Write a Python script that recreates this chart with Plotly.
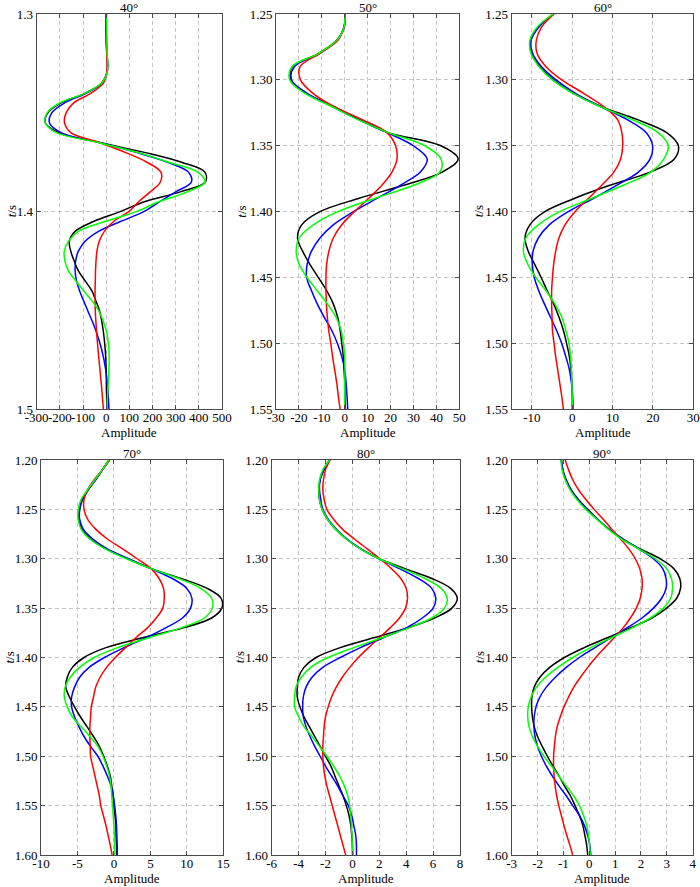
import plotly.graph_objects as go

# ---------------- data ----------------
ANGLES = ["40°", "50°", "60°", "70°", "80°", "90°"]

T40 = [1.300, 1.310, 1.320, 1.325, 1.330, 1.335, 1.340, 1.345, 1.350, 1.355,
       1.360, 1.365, 1.370, 1.375, 1.380, 1.385, 1.390, 1.395, 1.400, 1.405,
       1.410, 1.415, 1.420, 1.425, 1.430, 1.435, 1.440, 1.445, 1.450, 1.460,
       1.470, 1.480, 1.490, 1.500]
BLACK40 = [0, 0, 3, 6, 3, -20, -90, -195, -252, -263,
           -205, -30, 165, 325, 426, 428, 320, 165, 60, -55,
           -134, -159, -153, -138, -120, -91, -62, -45, -29, -13,
           -4, 0, 1, 3]
BLUE40 = [0, 0, 3, 6, 3, -18, -85, -180, -235, -245,
          -195, -30, 130, 265, 355, 368, 300, 230, 162, 61,
          -33, -91, -120, -132, -134, -128, -115, -98, -80, -45,
          -19, -2, 7, 12]
GREEN40 = [2, 3, 4, 7, 4, -20, -90, -200, -255, -263,
           -215, -35, 135, 270, 395, 427, 350, 227, 130, -5,
           -120, -163, -181, -178, -163, -131, -98, -62, -33, 0,
           12, 12, 7, 3]
RED40 = [0, 0, 2, 4, 2, -12, -65, -140, -173, -180,
         -153, -30, 82, 176, 236, 234, 190, 140, 97, 32,
         -8, -30, -40, -44, -46, -47, -48, -48, -47, -42,
         -35, -27, -19, -12]

T50 = [1.25, 1.26, 1.27, 1.28, 1.29, 1.30, 1.31, 1.32, 1.33, 1.34, 1.35,
       1.36, 1.37, 1.38, 1.39, 1.40, 1.41, 1.42, 1.43, 1.44, 1.45,
       1.46, 1.47, 1.48, 1.49, 1.50, 1.51, 1.52, 1.53, 1.54, 1.55]
BLACK50 = [0.0, -0.3, -3.5, -11.5, -22.8, -23.5, -17.0, -5.0, 6.0, 19.0, 42.0,
           49.5, 42.5, 25.7, 6.0, -10.8, -18.8, -20.6, -18.4, -15.2, -11.5,
           -7.9, -5.0, -3.1, -2.0, -1.3, -0.6, -0.3, 0.0, 0.1, 0.3]
BLUE50 = [0.0, -0.3, -3.4, -11.0, -22.0, -23.2, -16.5, -5.7, 6.0, 18.5, 30.0,
          36.0, 33.0, 24.2, 14.0, 3.8, -5.0, -10.8, -14.5, -16.4, -16.6,
          -14.5, -12.0, -9.0, -5.7, -3.2, -1.3, 0.0, 0.6, 1.0, 1.3]
GREEN50 = [0.0, -0.3, -3.5, -11.5, -23.0, -24.0, -17.5, -6.0, 5.5, 19.0, 35.0,
           42.0, 41.5, 30.0, 13.0, -3.0, -13.7, -19.9, -21.2, -19.9, -16.4,
           -12.0, -7.6, -3.8, -1.6, -0.6, 0.0, 0.1, 0.0, 0.0, 0.0]
RED50 = [0.0, -0.3, -3.0, -11.0, -19.5, -19.3, -14.0, -5.0, 7.4, 18.4, 22.2,
         22.8, 20.6, 16.2, 10.4, 4.2, -1.3, -5.0, -6.9, -7.9, -8.2,
         -8.2, -8.0, -7.6, -7.0, -6.1, -5.3, -4.4, -3.5, -2.8, -2.0]

T60 = T50
BLACK60 = [-4.7, -8.4, -10.3, -10.1, -8.0, -4.7, 0.2, 6.9, 16.0, 23.4, 26.3,
           25.3, 19.3, 9.3, 0.5, -6.8, -10.5, -11.7, -10.9, -9.3, -7.7,
           -6.2, -4.6, -3.3, -2.2, -1.4, -0.7, -0.3, -0.1, 0.0, 0.0]
BLUE60 = [-4.5, -8.3, -10.2, -9.8, -7.6, -4.0, 0.7, 6.9, 13.5, 18.3, 19.9,
          19.3, 16.4, 11.0, 5.2, -1.0, -5.7, -8.4, -9.7, -9.9, -9.4,
          -8.3, -6.9, -5.4, -3.9, -2.6, -1.6, -0.7, -0.2, 0.1, 0.2]
GREEN60 = [-4.7, -8.7, -10.5, -10.2, -8.2, -4.9, 0.1, 6.7, 14.7, 21.3, 23.8,
           22.7, 19.5, 12.6, 4.8, -3.1, -8.4, -11.5, -12.1, -11.0, -9.0,
           -6.5, -4.3, -2.6, -1.6, -0.8, -0.4, -0.2, -0.1, 0.0, 0.0]
RED60 = [-4.5, -7.6, -8.9, -8.7, -6.5, -2.6, 2.7, 7.7, 11.2, 12.3, 12.5,
         12.0, 10.3, 7.3, 4.0, 0.7, -1.8, -3.3, -4.1, -4.6, -4.9,
         -5.1, -5.1, -5.0, -4.9, -4.5, -4.1, -3.6, -3.1, -2.6, -2.2]

T70 = [1.20, 1.21, 1.22, 1.23, 1.24, 1.25, 1.26, 1.27, 1.28, 1.29, 1.30,
       1.31, 1.32, 1.33, 1.34, 1.35, 1.36, 1.37, 1.38, 1.39, 1.40,
       1.41, 1.42, 1.43, 1.44, 1.45, 1.46, 1.47, 1.48, 1.49, 1.50,
       1.51, 1.52, 1.53, 1.54, 1.55, 1.56, 1.57, 1.58, 1.59, 1.60]
BLACK70 = [-0.7, -1.6, -2.5, -3.5, -4.3, -4.7, -4.8, -4.4, -3.2, -1.1, 1.9,
           5.1, 9.2, 12.8, 14.7, 14.8, 13.4, 9.5, 3.9, -1.1, -4.1,
           -5.7, -6.4, -6.6, -6.1, -5.4, -4.6, -3.7, -2.8, -2.0, -1.4,
           -0.9, -0.5, -0.3, -0.1, 0.0, 0.15, 0.25, 0.3, 0.35, 0.4]
BLUE70 = [-0.6, -1.55, -2.5, -3.5, -4.4, -4.7, -4.7, -4.2, -2.9, -0.9, 2.0,
          5.1, 8.0, 10.0, 10.7, 10.5, 9.4, 7.1, 4.4, 1.4, -1.3,
          -3.4, -4.7, -5.4, -5.8, -5.8, -5.4, -4.8, -4.1, -3.2, -2.2,
          -1.5, -0.9, -0.4, -0.1, 0.1, 0.25, 0.35, 0.4, 0.45, 0.45]
GREEN70 = [-0.7, -1.6, -2.6, -3.6, -4.5, -4.9, -4.9, -4.5, -3.3, -1.2, 1.7,
           5.1, 8.9, 11.9, 13.4, 13.5, 12.4, 9.2, 4.8, 0.5, -2.7,
           -4.7, -6.0, -6.7, -6.8, -6.4, -5.7, -4.5, -3.3, -2.2, -1.5,
           -1.0, -0.6, -0.4, -0.3, -0.2, -0.1, 0.0, 0.05, 0.1, 0.1]
RED70 = [-0.6, -1.6, -2.7, -3.6, -4.1, -4.1, -3.6, -2.5, -0.9, 1.2, 3.2,
         5.1, 6.2, 6.8, 6.9, 6.7, 5.8, 4.6, 3.0, 1.6, 0.2,
         -1.0, -1.9, -2.5, -2.8, -3.1, -3.2, -3.3, -3.3, -3.25, -3.2,
         -2.9, -2.6, -2.3, -2.0, -1.8, -1.45, -1.1, -0.8, -0.5, -0.25]

T80 = T70
BLACK80 = [-1.7, -2.1, -2.4, -2.5, -2.45, -2.25, -1.85, -1.25, -0.45, 0.6, 2.0,
           3.9, 5.9, 7.3, 7.8, 7.4, 6.1, 4.1, 1.6, -0.9, -2.7,
           -3.6, -4.0, -4.1, -4.1, -3.9, -3.6, -3.2, -2.8, -2.4, -2.0,
           -1.6, -1.3, -1.0, -0.7, -0.45, -0.25, -0.12, -0.05, 0.0, 0.02]
BLUE80 = [-1.7, -2.15, -2.4, -2.45, -2.35, -2.2, -1.8, -1.2, -0.4, 0.65, 2.0,
          3.5, 4.9, 5.9, 6.2, 6.0, 5.2, 4.0, 2.3, 0.6, -0.9,
          -2.2, -3.0, -3.45, -3.65, -3.7, -3.65, -3.45, -3.15, -2.8, -2.4,
          -2.0, -1.55, -1.1, -0.7, -0.3, -0.05, 0.1, 0.25, 0.3, 0.3]
GREEN80 = [-1.7, -2.2, -2.45, -2.5, -2.45, -2.25, -1.85, -1.25, -0.45, 0.6, 2.0,
           3.7, 5.4, 6.6, 7.05, 6.85, 5.9, 4.2, 2.2, 0.1, -1.8,
           -3.1, -3.8, -4.2, -4.3, -4.3, -4.0, -3.6, -3.0, -2.45, -1.9,
           -1.4, -0.95, -0.6, -0.35, -0.2, -0.12, -0.07, -0.03, -0.01, 0.0]
RED80 = [-1.65, -2.0, -2.15, -2.2, -2.1, -1.9, -1.4, -0.75, 0.15, 1.1, 2.05,
         2.9, 3.6, 4.0, 4.1, 3.95, 3.5, 2.8, 2.0, 1.2, 0.45,
         -0.2, -0.75, -1.2, -1.55, -1.8, -2.0, -2.1, -2.15, -2.2, -2.2,
         -2.15, -2.05, -1.9, -1.7, -1.5, -1.3, -1.1, -0.9, -0.7, -0.5]

T90 = T70
BLACK90 = [-1.08, -1.02, -0.89, -0.7, -0.42, -0.06, 0.32, 0.76, 1.27, 1.97, 2.74,
           3.27, 3.5, 3.53, 3.38, 2.99, 2.42, 1.59, 0.7, -0.19, -0.96,
           -1.53, -1.91, -2.13, -2.22, -2.23, -2.2, -2.13, -2.0, -1.82, -1.62,
           -1.4, -1.17, -0.96, -0.73, -0.55, -0.38, -0.25, -0.17, -0.1, -0.06]
BLUE90 = [-1.08, -1.03, -0.91, -0.72, -0.45, -0.09, 0.32, 0.76, 1.31, 1.91, 2.48,
          2.84, 2.97, 2.97, 2.8, 2.48, 2.04, 1.46, 0.83, 0.22, -0.38,
          -0.89, -1.31, -1.66, -1.91, -2.06, -2.13, -2.14, -2.1, -2.0, -1.85,
          -1.66, -1.43, -1.17, -0.89, -0.64, -0.38, -0.19, -0.06, 0.02, 0.06]
GREEN90 = [-1.1, -1.05, -0.93, -0.75, -0.48, -0.13, 0.29, 0.73, 1.24, 1.91, 2.55,
           2.99, 3.18, 3.22, 3.15, 2.87, 2.36, 1.66, 0.85, 0.06, -0.64,
           -1.21, -1.69, -2.04, -2.25, -2.36, -2.38, -2.33, -2.2, -2.0, -1.75,
           -1.46, -1.18, -0.89, -0.61, -0.38, -0.22, -0.1, -0.03, 0.01, 0.04]
RED90 = [-0.93, -0.8, -0.64, -0.42, -0.13, 0.19, 0.54, 0.87, 1.21, 1.53, 1.78,
         1.95, 2.04, 2.04, 1.97, 1.82, 1.59, 1.31, 0.96, 0.6, 0.25,
         -0.06, -0.34, -0.6, -0.8, -0.98, -1.12, -1.24, -1.31, -1.35, -1.38,
         -1.38, -1.36, -1.32, -1.26, -1.18, -1.08, -0.98, -0.87, -0.75, -0.64]

# tick values / labels
XT40 = [-300, -200, -100, 0, 100, 200, 300, 400, 500]
XT50 = [-30, -20, -10, 0, 10, 20, 30, 40, 50]
XT60 = [-10, 0, 10, 20, 30]
XT70 = [-10, -5, 0, 5, 10, 15]
XT80 = [-6, -4, -2, 0, 2, 4, 6, 8]
XT90 = [-3, -2, -1, 0, 1, 2, 3, 4]
YT40 = [1.3, 1.4, 1.5]
YT50 = [1.25, 1.30, 1.35, 1.40, 1.45, 1.50, 1.55]
YT70 = [1.20, 1.25, 1.30, 1.35, 1.40, 1.45, 1.50, 1.55, 1.60]

# ---------------- figure ----------------
W, H = 700, 887
FONT = "Liberation Serif"
AX = "#4a4a4a"

panels = [
    dict(t=T40, k=BLACK40, b=BLUE40, g=GREEN40, r=RED40, xt=XT40, yt=YT40, yfmt="{:.1f}",
         xr=[-300, 500], yr=[1.5, 1.3], box=(36.7, 222.0, 14.0, 409.3), ylab=25),
    dict(t=T50, k=BLACK50, b=BLUE50, g=GREEN50, r=RED50, xt=XT50, yt=YT50, yfmt="{:.2f}",
         xr=[-30, 50], yr=[1.55, 1.25], box=(276.0, 459.3, 14.0, 409.3), ylab=34),
    dict(t=T60, k=BLACK60, b=BLUE60, g=GREEN60, r=RED60, xt=XT60, yt=YT50, yfmt="{:.2f}",
         xr=[-15, 30], yr=[1.55, 1.25], box=(511.7, 693.3, 14.0, 409.3), ylab=33),
    dict(t=T70, k=BLACK70, b=BLUE70, g=GREEN70, r=RED70, xt=XT70, yt=YT70, yfmt="{:.2f}",
         xr=[-10, 15], yr=[1.60, 1.20], box=(41.0, 223.3, 460.0, 855.0), ylab=32),
    dict(t=T80, k=BLACK80, b=BLUE80, g=GREEN80, r=RED80, xt=XT80, yt=YT70, yfmt="{:.2f}",
         xr=[-6, 8], yr=[1.60, 1.20], box=(271.7, 460.0, 460.0, 855.0), ylab=32),
    dict(t=T90, k=BLACK90, b=BLUE90, g=GREEN90, r=RED90, xt=XT90, yt=YT70, yfmt="{:.2f}",
         xr=[-3, 4], yr=[1.60, 1.20], box=(511.7, 692.7, 460.0, 855.0), ylab=32),
]

fig = go.Figure()
annotations = []
layout_axes = {}

for i, p in enumerate(panels):
    n = "" if i == 0 else str(i + 1)
    xref, yref = "x" + n, "y" + n
    for vals, col in ((p["k"], "#000000"), (p["b"], "#0000ff"),
                      (p["r"], "#ff0000"), (p["g"], "#00ff00")):
        fig.add_trace(go.Scatter(x=vals, y=p["t"], mode="lines", xaxis=xref, yaxis=yref,
                                 line=dict(color=col, width=1.5, shape="spline", smoothing=1.0),
                                 showlegend=False, hoverinfo="skip"))
    x0, x1, y0, y1 = p["box"]
    xd = [x0 / W, x1 / W]
    yd = [1 - y1 / H, 1 - y0 / H]
    common = dict(showline=True, linecolor=AX, linewidth=1, mirror="ticks",
                  ticks="inside", ticklen=4, tickcolor=AX, tickwidth=1,
                  showgrid=True, gridcolor="#c4c4c4", gridwidth=1, griddash="4px,3px",
                  zeroline=False, tickfont=dict(family=FONT, size=13, color="#000"),
                  fixedrange=True, automargin=False, tickangle=0)
    layout_axes["xaxis" + n] = dict(domain=xd, range=p["xr"], anchor=yref,
                                    tickvals=p["xt"], ticktext=[str(v) for v in p["xt"]],
                                    ticklabelstandoff=-4, **common)
    layout_axes["yaxis" + n] = dict(domain=yd, range=p["yr"], anchor=xref,
                                    tickvals=p["yt"], ticktext=[p["yfmt"].format(v) for v in p["yt"]],
                                    **common)
    xc = (xd[0] + xd[1]) / 2
    annotations.append(dict(text=ANGLES[i], x=xc, y=yd[1], xref="paper", yref="paper",
                            xanchor="center", yanchor="bottom", yshift=-3, showarrow=False,
                            font=dict(family=FONT, size=13, color="#000")))
    annotations.append(dict(text="Amplitude", x=xc, y=yd[0], xref="paper", yref="paper",
                            xanchor="center", yanchor="middle", yshift=-23, showarrow=False,
                            font=dict(family=FONT, size=13, color="#000")))
    annotations.append(dict(text="<i>t</i>/s", x=xd[0], y=(yd[0] + yd[1]) / 2,
                            xref="paper", yref="paper", xanchor="center", yanchor="middle",
                            xshift=-p["ylab"], textangle=-90, showarrow=False,
                            font=dict(family=FONT, size=13, color="#000")))

fig.update_layout(width=W, height=H, autosize=False,
                  margin=dict(l=0, r=0, t=0, b=0),
                  paper_bgcolor="white", plot_bgcolor="white",
                  font=dict(family=FONT, size=13, color="#000"),
                  annotations=annotations, **layout_axes)

fig.write_html("out.html", config={"displayModeBar": False, "staticPlot": True},
               post_script="document.body.style.margin='0';document.body.style.overflow='hidden';")
